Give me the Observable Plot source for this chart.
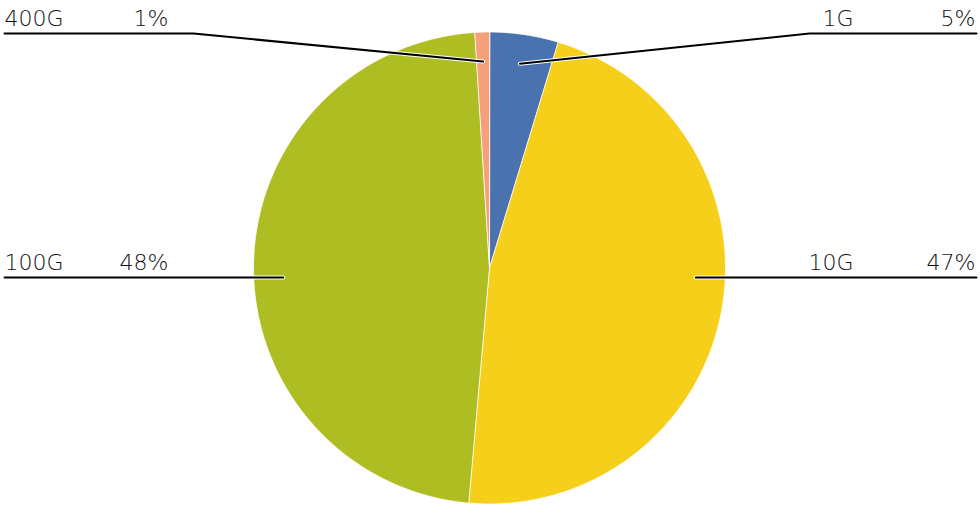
<!DOCTYPE html>
<html>
<head>
<meta charset="utf-8">
<script src="https://cdn.jsdelivr.net/npm/d3@7"></script>
<script src="https://cdn.jsdelivr.net/npm/@observablehq/plot@0.6"></script>
<style>
  html, body { margin: 0; padding: 0; background: #fff; }
  #chart svg { display: block; }
</style>
</head>
<body>
<div id="chart"></div>
<script>
// ---- data ----
const categories = ["1G", "10G", "100G", "400G"];
const shares = [4.7, 46.7, 47.6, 1.0];          // percent of total
const percentLabels = ["5%", "47%", "48%", "1%"];
const sliceColors = ["#4a72ae", "#f5cf1a", "#adbd22", "#f5a07a"];

// ---- layout (pixels) ----
const W = 980, H = 531;
const CX = 489, CY = 267.5, R = 236;
const labelRowY = [33, 277, 277, 33];           // leader row per category
const leftEdge = 4, leftBlockEnd = 193, leftPctEnd = 168;
const rightEdge = 976, rightBlockStart = 809, rightNameEnd = 853, rightPctEnd = 975;

// pixel -> data (data units: radius = 1, y up)
const px2x = (px) => (px - CX) / R;
const py2y = (py) => (CY - py) / R;

// ---- slices ----
const total = d3.sum(shares);
let acc = 0;
const slices = categories.map((c, i) => {
  const a0 = acc / total * 2 * Math.PI;
  acc += shares[i];
  const a1 = acc / total * 2 * Math.PI;
  return {key: c, a0, a1, i};
});
const wedgePts = [];
for (const s of slices) {
  wedgePts.push({key: s.key, x: 0, y: 0});
  const n = Math.max(2, Math.ceil((s.a1 - s.a0) / (Math.PI / 360)));
  for (let k = 0; k <= n; k++) {
    const a = s.a0 + (s.a1 - s.a0) * k / n;
    wedgePts.push({key: s.key, x: Math.sin(a), y: Math.cos(a)});
  }
}

// ---- leaders ----
const rIn = 0.875;
const leaderPts = [];
const texts = [];
for (const s of slices) {
  const rowY = py2y(labelRowY[s.i]);
  const mid = (s.a0 + s.a1) / 2;
  const right = Math.sin(mid) > 0;
  let ex, ey;
  if (Math.abs(rowY) < rIn) {
    const hx = Math.sqrt(rIn * rIn - rowY * rowY) * (right ? 1 : -1);
    let ang = Math.atan2(hx, rowY); if (ang < 0) ang += 2 * Math.PI;
    if (ang >= s.a0 && ang <= s.a1) { ex = hx; ey = rowY; }
  }
  if (ex === undefined) { ex = rIn * Math.sin(mid); ey = rIn * Math.cos(mid); }
  const edge = px2x(right ? rightEdge : leftEdge);
  const elbow = px2x(right ? rightBlockStart : leftBlockEnd);
  leaderPts.push({key: s.key, x: edge, y: rowY});
  leaderPts.push({key: s.key, x: elbow, y: rowY});
  leaderPts.push({key: s.key, x: ex, y: ey});
  const ty = py2y(labelRowY[s.i] - 8);
  if (right) {
    texts.push({t: s.key, x: px2x(rightNameEnd), y: ty, anchor: "end"});
    texts.push({t: percentLabels[s.i], x: px2x(rightPctEnd), y: ty, anchor: "end"});
  } else {
    texts.push({t: s.key, x: px2x(leftEdge), y: ty, anchor: "start"});
    texts.push({t: percentLabels[s.i], x: px2x(leftPctEnd), y: ty, anchor: "end"});
  }
}

const chart = Plot.plot({
  width: W, height: H,
  margin: 0,
  style: {fontFamily: "DejaVu Sans", fontSize: "22px", fontWeight: 200, background: "#fff"},
  x: {domain: [px2x(0), px2x(W)], range: [0, W], axis: null},
  y: {domain: [py2y(H), py2y(0)], range: [H, 0], axis: null},
  color: {domain: categories, range: sliceColors},
  marks: [
    Plot.line(wedgePts, {x: "x", y: "y", z: "key", fill: "key", stroke: "white", strokeWidth: 0.8, curve: "linear-closed"}),
    Plot.line(leaderPts, {x: "x", y: "y", z: "key", stroke: "white", strokeWidth: 4, strokeLinejoin: "round", strokeLinecap: "round"}),
    Plot.line(leaderPts, {x: "x", y: "y", z: "key", stroke: "black", strokeWidth: 2, strokeLinejoin: "round"}),
    Plot.text(texts.filter(d => d.anchor === "start"), {x: "x", y: "y", text: "t", textAnchor: "start", lineAnchor: "bottom", fill: "#111"}),
    Plot.text(texts.filter(d => d.anchor === "end"), {x: "x", y: "y", text: "t", textAnchor: "end", lineAnchor: "bottom", fill: "#111"})
  ]
});
document.getElementById("chart").appendChild(chart);
</script>
</body>
</html>
